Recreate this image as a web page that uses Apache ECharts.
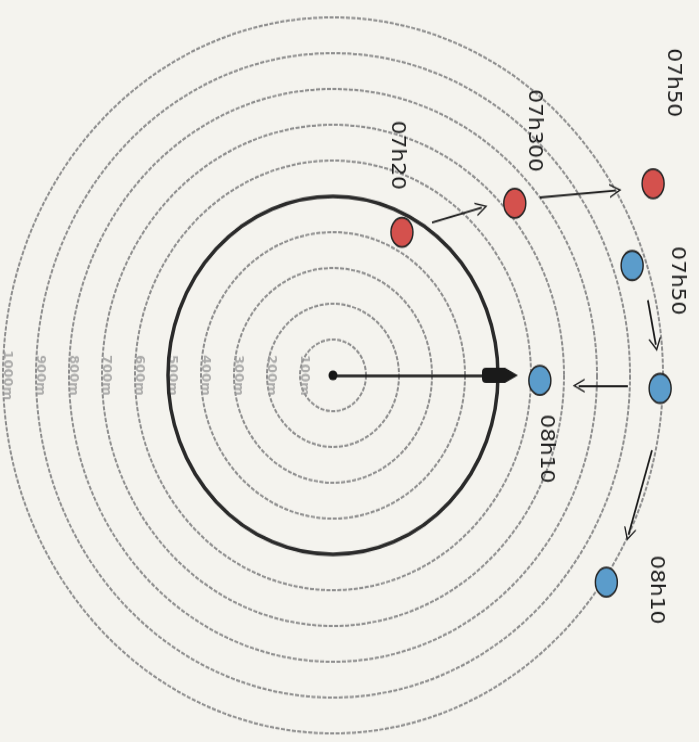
<!DOCTYPE html>
<html>
<head>
<meta charset="utf-8">
<script src="https://cdn.jsdelivr.net/npm/echarts@6/dist/echarts.min.js"></script>
<style>
  html, body { margin: 0; padding: 0; background: #f4f3ee; overflow: hidden; width: 699px; height: 742px; }
  #wrap { width: 699px; height: 742px; overflow: hidden; }
  #chart { width: 699px; height: 684px; transform: scaleY(1.0848); transform-origin: 0 0; }
</style>
</head>
<body>
<div id="wrap"><div id="chart"></div></div>
<script>
// ---- data (range in metres, bearing in degrees clockwise from the pointer direction) ----
const ringRanges = [100, 200, 300, 400, 500, 600, 700, 800, 900, 1000];
const ringLabels = ['100m', '200m', '300m', '400m', '500m', '600m', '700m', '800m', '900m', '1000m'];

const redTimes   = ['07h20', '07h300', '07h50'];
const redRange   = [451, 731, 1108];
const redBearing = [297.6, 318.9, 331.1];

const blueTimes   = ['07h50', '', '08h10', '08h10'];
const blueRange   = [957, 992, 627, 1010];
const blueBearing = [341.3, 2.1, 1.3, 34.9];

// arrows: [startRange, startBearing, endRange, endBearing]
const redMoves  = [[522, 305.1, 650, 313.9], [800, 321.6, 1000, 328.9]];
const blueMoves = [[977, 347.6, 982, 355.0], [894, 1.8, 745, 2.2], [989, 12.2, 1000, 26.4]];
const pointer   = [0, 0, 506, 0];

// ---- layout / style (not data) ----
// desired screen offsets [dx, dy] of each label centre from its dot centre
const redLabelOffsets  = [[-5, -71], [19, -67], [20, -93]];
const blueLabelOffsets = [[45, 14], [0, 0], [6, 63], [50, 7]];
const CENTER = [333, 346];
const PX_PER_M = 0.33;
const chevron = 'path://M0,11 L6,0 L12,11 L10.6,11 L6,2.6 L1.4,11 Z';
const bullet  = 'path://M7,0 L14,13 L14,32 Q14,36 10,36 L4,36 Q0,36 0,32 L0,13 Z';

// label offsets are applied in the rotated (-90deg) text frame
function rotOffset(o) { return [o[1], -o[0]]; }

const chart = echarts.init(document.getElementById('chart'), null, { renderer: 'canvas' });

function moveLines(moves) {
  return moves.map(m => [
    { coord: [m[0], m[1]], symbol: 'none' },
    { coord: [m[2], m[3]], symbol: chevron, symbolSize: [13, 12] }
  ]);
}
function pointLabel(times) {
  return {
    show: true, position: 'inside', rotate: -90,
    fontFamily: 'DejaVu Sans', fontSize: 20, color: '#1e1e1e',
    formatter: p => times[p.dataIndex]
  };
}
function dotData(ranges, bearings, offsets) {
  return ranges.map((r, i) => ({
    value: [r, bearings[i]],
    label: { offset: rotOffset(offsets[i]) }
  }));
}

const hiddenAngle = (idx) => ({ polarIndex: idx, type: 'value', min: 0, max: 360, startAngle: 0, clockwise: true, show: false });

const option = {
  backgroundColor: '#f4f3ee',
  animation: false,
  polar: [
    { center: CENTER, radius: 1000 * PX_PER_M },   // range rings
    { center: CENTER, radius: 500 * PX_PER_M },    // bold 500 m ring
    { center: CENTER, radius: 1200 * PX_PER_M }    // plotted positions (extends past 1000 m)
  ],
  angleAxis: [
    hiddenAngle(0),
    { polarIndex: 1, type: 'value', min: 0, max: 360, startAngle: 0, clockwise: true, z: 3,
      axisLine: { show: true, lineStyle: { color: '#2a2a2a', width: 3.5 } },
      axisTick: { show: false }, axisLabel: { show: false }, splitLine: { show: false } },
    hiddenAngle(2)
  ],
  radiusAxis: [
    { polarIndex: 0, type: 'value', min: 0, max: 1000, interval: 100,
      axisLine: { show: false }, axisTick: { show: false }, axisLabel: { show: false },
      splitArea: { show: false },
      splitLine: { show: true, lineStyle: { color: '#8e8e8e', width: 2, type: [4, 1.5] } } },
    { polarIndex: 1, type: 'value', min: 0, max: 500, show: false },
    { polarIndex: 2, type: 'value', min: 0, max: 1200, show: false }
  ],
  series: [
    {
      name: 'rings', type: 'scatter', coordinateSystem: 'polar', polarIndex: 0,
      symbolSize: 0, silent: true, z: 2,
      data: ringRanges.map(r => [r, 180]),
      label: {
        show: true, position: 'inside', rotate: -90, offset: rotOffset([4, 0]),
        fontFamily: 'DejaVu Sans', fontWeight: 'bold', fontSize: 12, color: '#9a9a9a',
        formatter: p => ringLabels[p.dataIndex]
      }
    },
    {
      name: 'centre', type: 'scatter', coordinateSystem: 'polar', polarIndex: 2,
      symbol: 'circle', symbolSize: 9, itemStyle: { color: '#151515', opacity: 1 }, silent: true, z: 4,
      data: [[0, 0]],
      markLine: {
        silent: true, animation: false, precision: 0,
        label: { show: false },
        lineStyle: { color: '#1e1e1e', width: 1.8, type: 'solid' },
        data: moveLines(redMoves).concat(moveLines(blueMoves)).concat([[
          { coord: [pointer[0], pointer[1]], symbol: 'none', lineStyle: { width: 2.6, color: '#1a1a1a' } },
          { coord: [pointer[2], pointer[3]], symbol: bullet, symbolSize: [14, 36], lineStyle: { width: 2.6, color: '#1a1a1a' } }
        ]])
      }
    },
    {
      name: 'red', type: 'scatter', coordinateSystem: 'polar', polarIndex: 2,
      symbol: 'circle', symbolSize: [22, 27], z: 5,
      itemStyle: { color: '#d4514d', borderColor: '#262626', borderWidth: 1.6, opacity: 1 },
      label: pointLabel(redTimes),
      data: dotData(redRange, redBearing, redLabelOffsets)
    },
    {
      name: 'blue', type: 'scatter', coordinateSystem: 'polar', polarIndex: 2,
      symbol: 'circle', symbolSize: [22, 27], z: 5,
      itemStyle: { color: '#5b9ccb', borderColor: '#262626', borderWidth: 1.6, opacity: 1 },
      label: pointLabel(blueTimes),
      data: dotData(blueRange, blueBearing, blueLabelOffsets)
    }
  ]
};
chart.setOption(option);
</script>
</body>
</html>
